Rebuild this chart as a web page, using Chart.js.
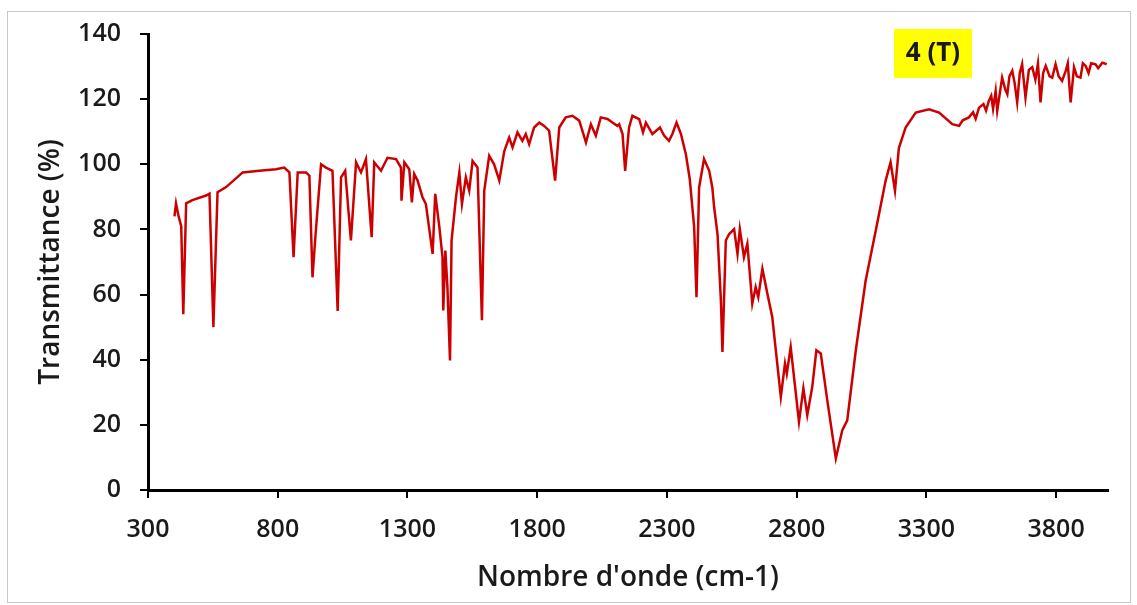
<!DOCTYPE html>
<html>
<head>
<meta charset="utf-8">
<title>Spectre IR — 4 (T)</title>
<script src="https://cdn.jsdelivr.net/npm/chart.js@4.4.1/dist/chart.umd.min.js"></script>
<style>
  html, body { margin: 0; padding: 0; background: #fff; }
  #wrap { position: relative; width: 1137px; height: 605px; }
</style>
</head>
<body>
<div id="wrap"><canvas id="ir-chart"></canvas></div>
<script>
// ── Data ─────────────────────────────────────────────
const wavenumbers = [
  402, 408, 418, 428, 436, 447, 471, 524, 537, 552, 568, 601, 665, 729, 793, 825,
  845, 861, 877, 909, 922, 934, 945, 967, 986, 1011, 1031, 1044, 1060, 1082, 1102,
  1121, 1140, 1162, 1172, 1198, 1223, 1256, 1275, 1277, 1288, 1307, 1317, 1326,
  1339, 1358, 1371, 1397, 1407, 1423, 1435, 1438, 1446, 1454, 1464, 1470, 1487,
  1500, 1510, 1525, 1538, 1551, 1570, 1587, 1596, 1615, 1634, 1654, 1673, 1692,
  1705, 1724, 1743, 1756, 1769, 1788, 1808, 1827, 1846, 1869, 1885, 1910, 1936,
  1962, 1988, 2007, 2026, 2045, 2071, 2090, 2109, 2116, 2129, 2139, 2154, 2167,
  2193, 2208, 2219, 2244, 2273, 2289, 2308, 2321, 2337, 2354, 2373, 2388, 2405,
  2414, 2424, 2443, 2463, 2475, 2482, 2495, 2508, 2514, 2527, 2540, 2559, 2572,
  2581, 2597, 2610, 2629, 2642, 2652, 2668, 2687, 2706, 2739, 2755, 2762, 2777,
  2809, 2826, 2841, 2860, 2876, 2893, 2918, 2951, 2976, 2995, 3028, 3066, 3105,
  3143, 3162, 3179, 3194, 3220, 3259, 3310, 3349, 3400, 3426, 3440, 3464, 3480,
  3490, 3503, 3520, 3530, 3541, 3550, 3557, 3567, 3573, 3592, 3604, 3612, 3620,
  3631, 3640, 3650, 3660, 3669, 3682, 3695, 3708, 3720, 3730, 3740, 3750, 3760,
  3775, 3785, 3798, 3810, 3823, 3837, 3845, 3856, 3869, 3880, 3894, 3903, 3914,
  3925, 3935, 3952, 3962, 3978, 3995
];
const transmittance = [
  84, 88, 84, 81, 54, 88, 89, 90.4, 91, 50, 91.4, 93, 97.5, 98, 98.5, 99,
  97.5, 71.5, 97.5, 97.5, 96.5, 65.3, 77.6, 100, 99, 98, 55, 96, 98, 76.6, 100.6,
  97.5, 101.6, 77.6, 100.6, 98, 102, 101.6, 99, 88.8, 100.6, 98.5, 88.3, 97,
  95, 89.9, 87.8, 72.5, 90.9, 80.7, 71.5, 55.1, 73.5, 62.3, 39.8, 76.6, 89.9,
  97.5, 87.8, 96, 91.9, 101, 99, 52.1, 91.9, 102.6, 100, 95, 104, 108.2,
  105.2, 109.8, 107.2, 109.3, 106.2, 111.3, 112.8, 111.8, 110.3, 95, 111.3, 114.4, 114.9,
  113.4, 106.7, 112.3, 108.8, 114.4, 113.9, 112.8, 111.8, 112.3, 109.3, 98, 111.3, 114.9,
  113.9, 109.8, 112.8, 109.3, 111.3, 108.8, 107.2, 109.3, 112.8, 109.3, 103.1, 95.5, 80.7,
  59.2, 92.9, 101.6, 98, 92.9, 86.8, 78.6, 58.2, 42.4, 76.6, 78.6, 80.1, 72.5,
  80.1, 71.5, 75.6, 57.2, 62.3, 59.2, 67.9, 60.3, 53.1, 28.6, 38.8, 35.7, 43.9,
  20.9, 31.2, 23, 31.6, 42.9, 41.9, 27.6, 9.7, 18.4, 21.4, 42.9, 64.3, 79.7,
  95, 100.6, 91.9, 105, 111.3, 115.9, 116.9, 115.9, 112.3, 111.8, 113.5, 114.4, 116,
  114, 117.4, 118.5, 116.5, 119.5, 121, 117, 122.5, 116.4, 126.6, 123, 121.5, 127,
  128.7, 125, 119, 128, 130.7, 120.5, 129, 129.8, 126, 131, 119, 128, 130.2,
  127, 126.6, 130.7, 127, 125.6, 128.7, 131, 119, 129.8, 127, 126.6, 131, 130.2,
  128, 131, 130.7, 129.5, 131.2, 130.7
];
const xTicks = [300, 800, 1300, 1800, 2300, 2800, 3300, 3800];
const yTicks = [0, 20, 40, 60, 80, 100, 120, 140];
const sampleLabel = "4 (T)";

// ── Chart ─────────────────────────────────────────────
const FONT = "'Open Sans', 'DejaVu Sans', sans-serif";
const INK = "#1a1a1a";

const frame = {
  id: "frame",
  beforeDraw(chart) {
    const c = chart.ctx;
    c.save();
    c.fillStyle = "#fff";
    c.fillRect(0, 0, chart.width, chart.height);
    c.strokeStyle = "#c8c8c8";
    c.lineWidth = 1;
    c.strokeRect(7.5, 11.5, 1123, 591);
    c.restore();
  }
};

const tag = {
  id: "tag",
  afterDraw(chart) {
    const c = chart.ctx;
    c.save();
    c.fillStyle = "#ffff00";
    c.fillRect(894, 29, 78, 49);
    c.fillStyle = INK;
    c.font = "bold 26px " + FONT;
    c.textAlign = "center";
    c.textBaseline = "middle";
    c.fillText(sampleLabel, 933, 54);
    c.restore();
  }
};

const points = wavenumbers.map((w, i) => ({ x: w, y: transmittance[i] }));

new Chart(document.getElementById("ir-chart"), {
  type: "line",
  data: {
    datasets: [{
      data: points,
      borderColor: "#cc0000",
      borderWidth: 2.5,
      pointRadius: 0,
      tension: 0,
      fill: false
    }]
  },
  options: {
    responsive: true,
    maintainAspectRatio: false,
    animation: false,
    layout: { padding: { top: 33, right: 29, left: 0, bottom: 0 } },
    plugins: {
      legend: { display: false },
      tooltip: { enabled: false }
    },
    scales: {
      x: {
        type: "linear",
        min: 300,
        max: 4000,
        afterBuildTicks: ax => { ax.ticks = xTicks.map(v => ({ value: v })); },
        afterFit: ax => { ax.height = 115; },
        ticks: {
          color: INK,
          font: { family: FONT, size: 25, weight: "600" },
          maxRotation: 0,
          padding: 17,
          callback: v => String(v)
        },
        grid: { drawOnChartArea: false, drawTicks: true, tickLength: 8, color: "#000", lineWidth: 2 },
        border: { color: "#000", width: 3 },
        title: {
          display: true,
          text: "Nombre d'onde (cm-1)",
          color: INK,
          font: { family: FONT, size: 28, weight: "600" },
          padding: { top: 0, bottom: 10 }
        }
      },
      y: {
        min: 0,
        max: 140,
        afterBuildTicks: ax => { ax.ticks = yTicks.map(v => ({ value: v })); },
        afterFit: ax => { ax.width = 148; },
        ticks: {
          color: INK,
          font: { family: FONT, size: 25, weight: "600" },
          padding: 19,
          callback: v => String(v)
        },
        grid: { drawOnChartArea: false, drawTicks: true, tickLength: 8, color: "#000", lineWidth: 2 },
        border: { color: "#000", width: 3 },
        title: {
          display: true,
          text: "Transmittance (%)",
          color: INK,
          font: { family: FONT, size: 28, weight: "600" },
          padding: { top: 34, bottom: 0 }
        }
      }
    }
  },
  plugins: [frame, tag]
});
</script>
</body>
</html>
